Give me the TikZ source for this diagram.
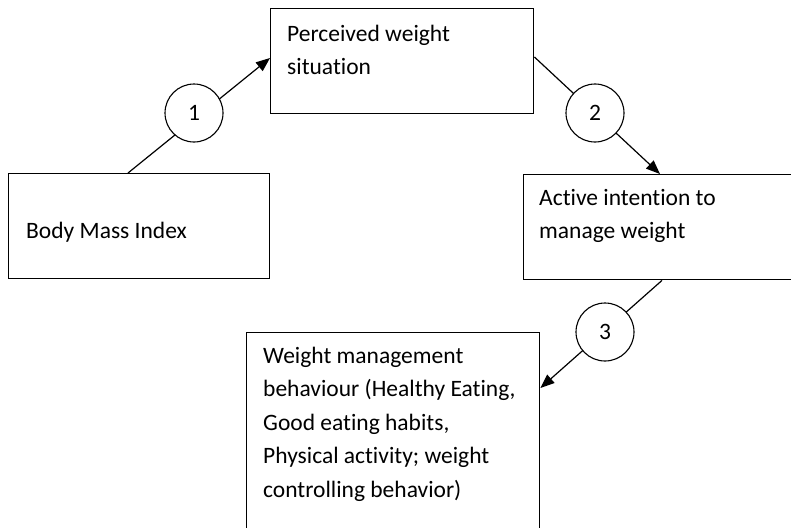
\documentclass[tikz,border=0pt]{standalone}
\usepackage{fontspec}
\setmainfont{Carlito}[Ligatures={NoCommon}]
\usetikzlibrary{arrows.meta,calc}

\tikzset{
  box/.style={draw, line width=1.4pt, rectangle, inner sep=0pt, anchor=north west},
  label/.style={anchor=north west, inner sep=0pt, align=left,
                font=\fontsize{23.5}{33.5}\selectfont},
  stage/.style={draw, line width=1.1pt, circle, fill=white, minimum size=58pt,
                inner sep=0pt, font=\fontsize{23.5}{28}\selectfont},
  link/.style={line width=1.2pt, -{Triangle[length=14pt,width=11pt]}},
}

\begin{document}
\begin{tikzpicture}[x=1pt,y=-1pt]
  \clip (0,0) rectangle (791,527);
  \fill[white] (0,0) rectangle (791,527);

  % boxes
  \node[box, minimum width=263pt, minimum height=105pt] (perc) at (270,8) {};
  \node[box, minimum width=261pt, minimum height=105pt] (bmi) at (8,173) {};
  \node[box, minimum width=290pt, minimum height=105pt] (act) at (523,174) {};
  \node[box, minimum width=293pt, minimum height=220pt] (wmb) at (246,332) {};

  % box texts
  \node[label] (percT) at (287,17.5) {\strut Perceived weight\\situation};
  \node[label] (bmiT) at (26,214.5) {\strut Body Mass Index};
  \node[label] (actT) at (539,181.5) {\strut Active intention to\\manage weight};
  \node[label] (wmbT) at (263,339.5) {\strut Weight management\\behaviour (Healthy Eating,\\Good eating habits,\\Physical activity; weight\\controlling behavior)};

  % connector end points on the box borders
  \coordinate (a1) at (bmi.north west -| 128,0);
  \coordinate (b1) at (perc.west |- 0,58);
  \coordinate (a2) at (perc.east |- 0,57);
  \coordinate (b2) at (act.north west -| 660,0);
  \coordinate (a3) at (act.south west -| 662,0);
  \coordinate (b3) at (wmb.east |- 0,388);

  % connectors
  \draw[link] (a1) -- (b1);
  \draw[link] (a2) -- (b2);
  \draw[link] (a3) -- (b3);

  % numbered stages
  \node[stage] (s1) at (194,113) {1};
  \node[stage] (s2) at (595,113) {2};
  \node[stage] (s3) at (605,332) {3};
\end{tikzpicture}
\end{document}
